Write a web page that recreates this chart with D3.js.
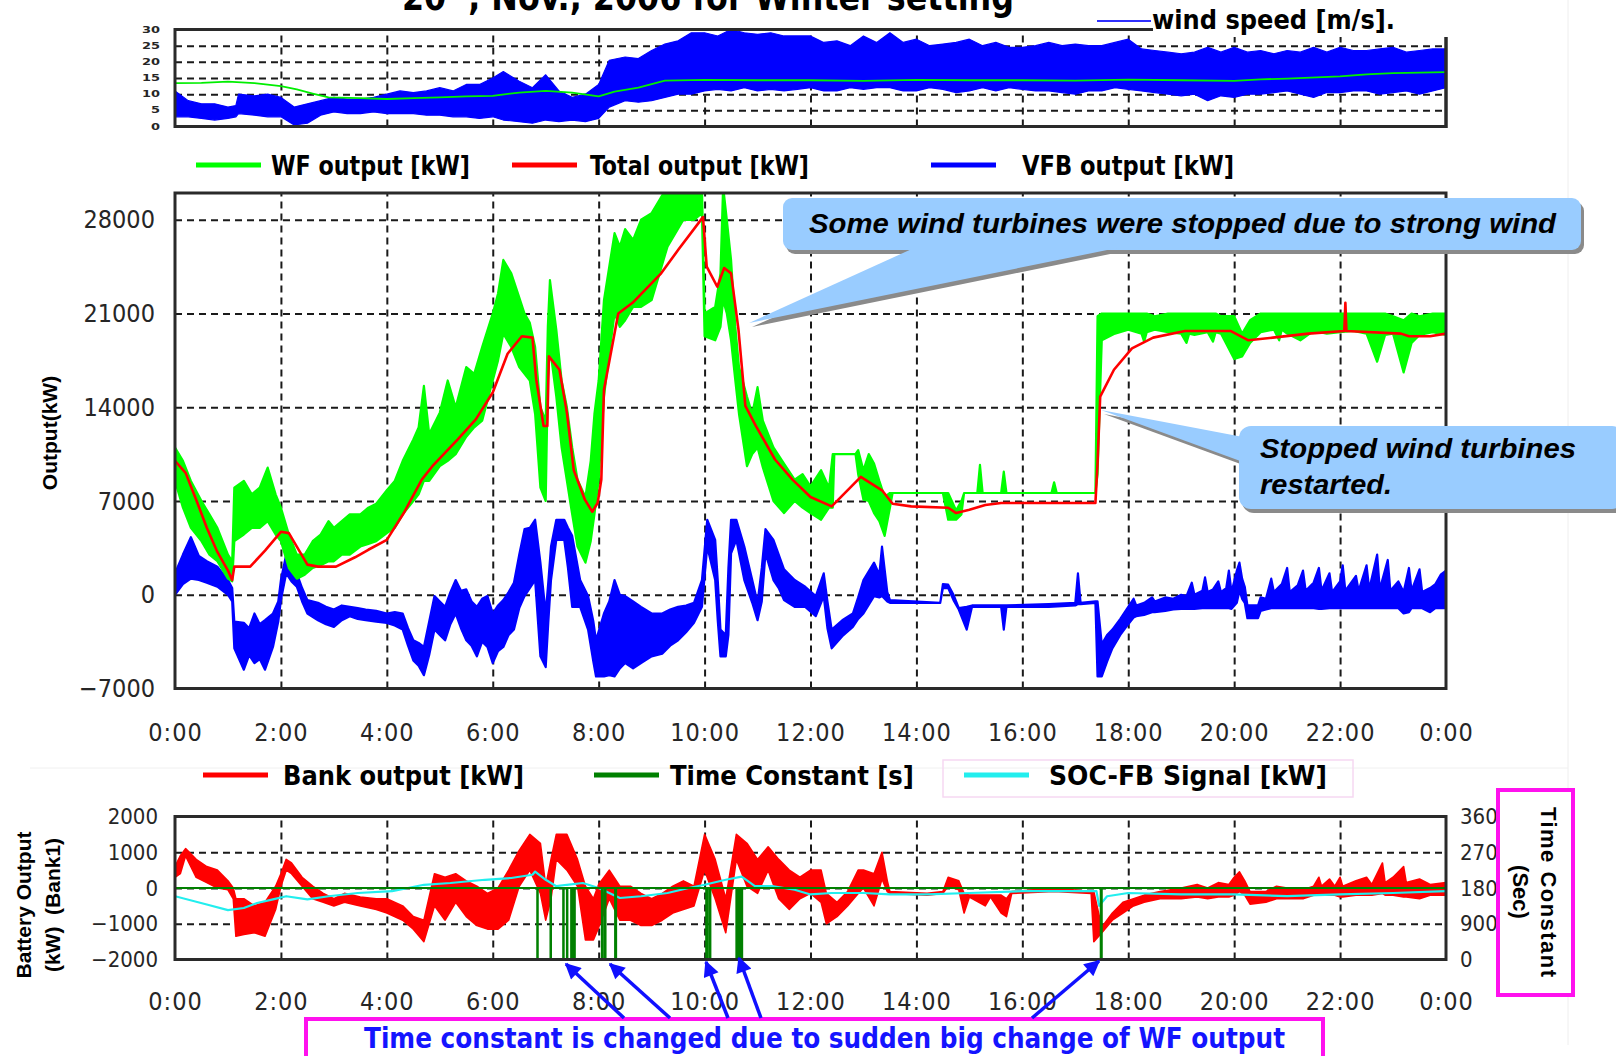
<!DOCTYPE html>
<html>
<head>
<meta charset="utf-8">
<script src="https://cdn.jsdelivr.net/npm/d3@7"></script>
<style>
  body { margin: 0; background: #fff; }
  svg { display: block; }
  .narrow { font-family: "Liberation Sans Narrow", "DejaVu Sans Condensed", "Liberation Sans", Arial, sans-serif; }
  .sans { font-family: "Liberation Sans", Arial, sans-serif; }
</style>
</head>
<body>
<svg id="chart" width="1616" height="1056"></svg>
<script>
// ---- tick values / labels
const hourTicks = [0, 2, 4, 6, 8, 10, 12, 14, 16, 18, 20, 22, 24];
const hourLabels = ["0:00", "2:00", "4:00", "6:00", "8:00", "10:00", "12:00", "14:00", "16:00", "18:00", "20:00", "22:00", "0:00"];
const windTicks = [0, 5, 10, 15, 20, 25, 30];
const outputTicks = [-7000, 0, 7000, 14000, 21000, 28000];
const bankTicks = [-2000, -1000, 0, 1000, 2000];
const tcTicks = [0, 900, 1800, 2700, 3600];

const outputNames = ["WF output [kW]", "Total output [kW]", "VFB output [kW]"];
const outputColors = ["#00ff00", "#ff0000", "#0000ff"];
const bankNames = ["Bank output [kW]", "Time Constant [s]", "SOC-FB Signal [kW]"];
const bankColors = ["#ff0000", "#008000", "#22eeee"];

// ---- wind speed [m/s]: [hour, high, low] of the noisy trace
const windSpeed = [
  [0,11,3],[0.25,8,3],[0.5,7,2.5],[0.75,7,2],[1,6,2.5],[1.15,6.5,3],[1.2,10,4],[1.5,9.5,3.5],[1.75,10,3],
  [2,9,3],[2.25,6,0.5],[2.5,7,1],[2.75,8,3.5],[3,9,4.5],[3.25,8.5,4],[3.5,8.5,4],[3.75,9,4.5],[4,10,4],
  [4.25,11,4],[4.5,10.5,4],[4.75,11,3.5],[5,12,3.5],[5.25,11,3],[5.5,13,3],[5.75,13,2.5],[6,15,3],[6.2,17,2],
  [6.5,14,1.5],[6.75,12,1],[7,16,2],[7.25,11,1.5],[7.5,9,2],[7.75,10,1.5],[8,13,2.5],[8.2,20.5,6],[8.5,21.5,8],
  [8.75,21,7.5],[9,23.5,8],[9.25,25.5,9],[9.5,26.5,10],[9.75,29,10],[10,29,11],[10.25,28,11.5],[10.5,30,11],
  [10.75,29,12],[11,28.5,11],[11.25,29,11.5],[11.5,28,11],[11.75,28,11.5],[12,28,12],[12.25,26,11],[12.5,26.5,11],
  [12.75,25,12],[13,28,11.5],[13.25,26,12],[13.5,29,12],[13.75,26,11],[14,27,11],[14.25,25,12],[14.5,25.5,11.5],
  [14.75,26,10.5],[15,27,11],[15.25,25,12],[15.5,26,11],[15.75,24.5,12],[16,24.5,11.5],[16.25,25,11],[16.5,26,11],
  [16.75,25,10.5],[17,25.5,10],[17.25,25,11],[17.5,25,11],[17.75,26,12],[18,27,11.5],[18.25,24,11],[18.5,23.5,10.5],
  [18.75,23,10],[19,22.5,9.5],[19.25,23,10],[19.5,24.5,8],[19.75,23,9.5],[20,24.5,9],[20.25,23,10],[20.5,23.5,10],
  [20.75,22.5,10.5],[21,23.5,11],[21.25,23,10],[21.5,24.5,9],[21.75,23,10.5],[22,24.5,10.5],[22.25,23.5,11],
  [22.5,23.5,11],[22.75,24,10],[23,24.5,10.5],[23.25,23,11],[23.5,23.5,10],[23.75,24,11],[24,24,12]
];
// smoothed green trace of the top panel [hour, m/s]
const windMean = [
  [0,13.4],[0.5,13.5],[1,13.9],[1.5,13.4],[2,12.5],[2.3,11.5],[2.6,10.2],[2.9,9],[3.5,8.8],[4,8.5],[4.5,8.8],
  [5,9],[5.5,9.3],[6,9.5],[6.5,10.5],[7,11],[7.5,10.5],[8,9.3],[8.3,10.8],[8.75,12],[9.25,14.2],[10,14.4],
  [11,14.3],[12,14.3],[13,14.1],[14,14.4],[15,14.3],[16,14.3],[17,14.2],[18,14.5],[19,14.3],[20,14.1],
  [20.5,14.6],[21,14.8],[22,15.5],[22.5,16.1],[23,16.5],[24,16.8]
];

// ---- middle panel [kW]
// WF output: [hour, high, low]
const wfOutput = [
  [0,11000,8500],[0.15,10000,6500],[0.3,8500,5000],[0.5,7000,4000],[0.65,6000,3000],[0.8,5000,2500],[1,3000,1200],
  [1.08,2500,1000],[1.12,8000,4000],[1.3,8500,4500],[1.45,7500,5000],[1.6,8000,5000],[1.75,9500,5500],[1.9,7500,4500],
  [2,6500,4000],[2.15,4500,2000],[2.3,3000,1200],[2.45,3000,1500],[2.6,4000,2000],[2.75,4500,2200],[2.9,5500,2500],
  [3,5000,2500],[3.15,5500,3000],[3.3,6000,3000],[3.5,6000,3600],[3.65,6500,3800],[3.8,6800,4000],[4,7800,4600],
  [4.15,8500,5000],[4.3,10000,6000],[4.5,11600,7000],[4.6,12500,7500],[4.7,15600,8500],[4.8,12000,8500],[5,13600,9600],
  [5.15,16000,10000],[5.3,14000,10500],[5.5,17000,11800],[5.65,16500,12500],[5.8,18500,13000],[6,21000,16000],
  [6.1,22500,17500],[6.2,25000,19500],[6.35,24000,18500],[6.5,22200,17000],[6.6,21000,16500],[6.7,20300,16000],
  [6.8,18500,13500],[6.9,14000,8000],[7,13000,7000],[7.04,20000,16000],[7.08,23500,18500],[7.2,19800,14800],
  [7.3,16000,11000],[7.4,14000,8500],[7.5,11000,6000],[7.6,8600,3600],[7.75,7300,2400],[7.85,10000,4000],
  [7.92,13500,6000],[8,16000,8600],[8.1,22000,14800],[8.2,24500,18000],[8.3,27000,21000],[8.4,26000,20000],
  [8.5,27300,20500],[8.65,26500,21500],[8.8,28000,21500],[9,28500,22000],[9.15,29500,24000],[9.3,30500,26000],
  [9.45,30500,27000],[9.6,30500,28000],[9.8,30500,28000],[9.95,30500,28500],[10,21000,19300],[10.2,21500,19000],
  [10.3,24000,20000],[10.35,30500,22000],[10.42,28000,21000],[10.5,25000,19000],[10.58,20000,16000],
  [10.65,17000,13500],[10.8,14800,9600],[10.9,13500,10500],[11,15500,11000],[11.1,13000,9500],[11.3,11000,7000],
  [11.5,9800,6100],[11.7,8600,7000],[11.85,9000,6500],[12,8100,6100],[12.2,9300,5600],[12.35,8000,6500],
  [12.42,10500,6500],[12.45,10500,10500],[12.85,10500,10500],[12.9,10800,9000],[13,9300,7100],[13.1,10500,7000],
  [13.2,9800,6100],[13.3,8500,5500],[13.4,7300,4400],[13.5,7600,6500],[13.55,7600,7600],[14.5,7600,7600],
  [14.6,7600,5600],[14.75,6300,5600],[14.85,7000,6000],[14.9,7600,7600],[15.15,7600,7600],[15.2,9700,7600],
  [15.25,7600,7600],[15.6,7600,7600],[15.65,9200,7600],[15.7,7600,7600],[16.55,7600,7600],[16.6,8400,7600],
  [16.65,7600,7600],[17.38,7600,7600],[17.42,20800,9000],[17.5,21000,19000],[17.75,21000,19500],[18,21000,19800],
  [18.25,21000,19500],[18.3,21000,18900],[18.35,21000,19600],[18.5,20800,19800],[18.75,21000,19600],[19,21000,19500],
  [19.1,21000,18800],[19.15,21000,19500],[19.25,21000,19400],[19.5,21000,19600],[19.6,21000,18900],[19.65,21000,19600],
  [19.75,20800,19500],[20,20800,17600],[20.15,19500,17800],[20.3,20500,18800],[20.5,21000,19600],[20.75,21000,19800],
  [20.85,21000,19000],[20.9,21000,19800],[21,21000,19500],[21.25,21000,19000],[21.5,21000,19700],[21.75,21000,19500],
  [22,21000,19600],[22.25,21000,19700],[22.5,21000,19500],[22.7,21000,17400],[22.85,21000,19400],[23,20800,19500],
  [23.2,20500,16600],[23.35,21000,18800],[23.5,20800,19400],[23.75,21000,19600],[24,21000,19400]
];
// Total output: [hour, kW]
const totalOutput = [
  [0,10000],[0.2,9100],[0.4,7100],[0.6,5000],[0.8,3200],[1,1800],[1.08,1100],[1.12,2100],[1.42,2100],[1.7,3300],
  [2,4700],[2.15,4600],[2.5,2250],[2.7,2100],[3.04,2100],[3.4,2800],[3.65,3360],[4,4100],[4.32,6100],[4.66,8600],
  [4.86,9600],[5.34,11600],[5.68,13100],[6,15100],[6.28,18000],[6.55,19300],[6.75,19200],[6.82,16100],[6.96,12600],
  [7.03,12600],[7.06,17800],[7.26,16800],[7.4,13600],[7.53,9300],[7.74,7100],[7.88,6200],[7.98,6850],[8.05,8600],
  [8.1,15300],[8.37,21000],[8.64,21800],[9.18,24000],[9.51,25800],[9.97,28200],[10.04,24500],[10.24,23000],
  [10.37,24400],[10.5,24000],[10.64,19800],[10.77,14100],[10.97,12600],[11.33,10100],[11.66,8600],[12,7300],
  [12.4,6600],[12.95,8800],[13.35,7800],[13.55,6800],[13.9,6600],[14.6,6500],[14.75,6100],[15,6350],[15.3,6700],
  [15.6,6850],[17.38,6850],[17.42,9800],[17.47,14800],[17.73,16800],[18.07,18400],[18.47,19200],[19.07,19700],
  [19.93,19700],[20.27,19000],[20.73,19200],[21.4,19500],[22.08,19700],[22.1,21800],[22.12,19700],[23.15,19500],
  [23.3,19300],[23.7,19300],[24,19500]
];
// VFB output: [hour, high, low]
const vfbOutput = [
  [0,1600,0],[0.15,3000,800],[0.3,4300,1200],[0.45,2900,1100],[0.6,2500,900],[0.8,2100,600],[1,1100,0],[1.08,500,-500],
  [1.12,-2000,-4000],[1.3,-2100,-5600],[1.4,-2500,-4500],[1.5,-1400,-5100],[1.6,-2200,-4800],[1.7,-1900,-5600],
  [1.85,-1400,-3900],[1.95,-500,-2000],[2,1100,-400],[2.1,3000,1600],[2.2,2400,1000],[2.3,1600,600],[2.4,500,-500],
  [2.5,-400,-1400],[2.7,-600,-1900],[2.85,-900,-2200],[3,-1100,-2400],[3.15,-800,-1900],[3.3,-900,-1600],
  [3.45,-1000,-1800],[3.6,-1100,-1900],[3.8,-1200,-2000],[4,-1400,-2100],[4.15,-1300,-2300],[4.3,-1400,-2600],
  [4.4,-2500,-3800],[4.5,-3400,-4900],[4.6,-3600,-5300],[4.7,-3900,-6000],[4.8,-2000,-4500],[4.9,-100,-2600],
  [5,-500,-3000],[5.1,-900,-3400],[5.2,200,-2200],[5.3,1100,-1400],[5.4,300,-2500],[5.5,400,-3400],[5.6,-500,-3800],
  [5.7,-900,-4600],[5.8,-300,-3500],[5.9,-100,-3900],[6,-1400,-5100],[6.1,-800,-4200],[6.2,-400,-3900],
  [6.3,200,-3000],[6.4,900,-2600],[6.5,3000,-1000],[6.6,4900,-100],[6.7,5000,500],[6.8,5600,1100],[6.9,2400,-4600],
  [7,-1400,-5400],[7.05,1000,-2000],[7.1,3600,1100],[7.2,5600,4100],[7.35,5600,4100],[7.42,5000,2000],
  [7.5,4400,-900],[7.65,1100,-900],[7.8,-100,-2600],[7.9,-2000,-5000],[7.95,-3400,-6100],[8.1,-1400,-6100],
  [8.2,-500,-6000],[8.3,1100,-6100],[8.4,0,-5500],[8.5,-100,-5100],[8.65,-500,-5500],[8.8,-900,-5100],
  [9,-1400,-4600],[9.2,-1400,-4400],[9.35,-1100,-3800],[9.5,-900,-3400],[9.65,-800,-2800],[9.8,-600,-2100],
  [9.95,1100,-900],[10.05,5600,3600],[10.2,4100,1100],[10.25,1000,-2000],[10.3,-2600,-4600],[10.4,-3000,-4600],
  [10.45,2000,-3000],[10.5,5600,3100],[10.6,5600,4100],[10.75,3600,1100],[10.9,1100,-600],[11,-600,-1900],
  [11.08,2000,-500],[11.15,4900,3100],[11.3,4100,1100],[11.4,3000,500],[11.5,1900,-400],[11.7,1100,-900],
  [11.9,600,-900],[12.1,-100,-1600],[12.25,1600,-100],[12.32,-500,-2500],[12.4,-2600,-4000],[12.6,-1900,-3100],
  [12.8,-1400,-2400],[12.9,-200,-1800],[13,1100,-1400],[13.2,2400,-100],[13.3,1500,-200],[13.35,3600,-100],
  [13.45,200,-500],[13.5,-400,-600],[14.45,-600,-600],[14.5,800,500],[14.6,750,500],[14.7,0,-400],
  [14.8,-1000,-1100],[14.95,-900,-2600],[15.05,-800,-900],[15.6,-800,-900],[15.65,-800,-2600],[15.7,-800,-900],
  [16.5,-700,-900],[17,-600,-800],[17.05,1600,-700],[17.1,-600,-700],[17.38,-500,-600],[17.42,-500,-6100],
  [17.5,-3700,-6100],[17.6,-3000,-5000],[17.7,-2600,-4000],[17.85,-1800,-3000],[18,-900,-2200],[18.1,-300,-1700],
  [18.15,-800,-1600],[18.3,-600,-1500],[18.45,-200,-1300],[18.5,-500,-1300],[18.7,-200,-1200],[18.85,-300,-1100],
  [19,0,-1050],[19.1,-100,-1050],[19.2,900,-1050],[19.25,0,-1050],[19.4,300,-1000],[19.45,1300,-1000],
  [19.5,200,-1000],[19.6,400,-1000],[19.7,1000,-1000],[19.75,200,-1000],[19.85,500,-1000],[19.9,1800,-1000],
  [19.95,200,-1050],[20.05,1800,-600],[20.1,2400,300],[20.15,1200,-300],[20.2,600,-600],[20.25,-800,-1750],
  [20.45,-800,-1750],[20.5,-200,-1200],[20.6,-300,-1100],[20.7,1200,-1000],[20.75,200,-1000],[20.9,800,-1000],
  [21,2000,-1000],[21.05,200,-1000],[21.2,700,-1000],[21.3,1800,-1000],[21.35,300,-1000],[21.5,900,-1000],
  [21.6,2000,-1050],[21.65,300,-1050],[21.8,1600,-1000],[21.85,200,-1000],[22,1000,-1000],[22.05,2200,-1000],
  [22.1,300,-1000],[22.3,1400,-1000],[22.35,300,-1000],[22.5,2200,-1000],[22.55,400,-1000],[22.7,3000,-1000],
  [22.75,400,-1000],[22.9,2600,-1000],[22.95,300,-1000],[23.1,1000,-1000],[23.2,200,-1400],[23.3,2000,-1300],
  [23.35,300,-1000],[23.5,1900,-1000],[23.55,200,-1000],[23.7,500,-1300],[23.8,800,-1000],[23.9,1500,-1000],
  [24,1800,-1000]
];

// ---- bottom panel
// Bank output [kW]: [hour, high, low]
const bankOutput = [
  [0,600,300],[0.1,900,400],[0.2,1100,900],[0.4,800,300],[0.6,600,150],[0.8,500,0],[1,200,-50],[1.1,0,-300],
  [1.15,-300,-1350],[1.3,-300,-1300],[1.5,-500,-1250],[1.7,-400,-1350],[1.9,50,-600],[2,400,50],[2.1,800,500],
  [2.2,700,400],[2.4,300,50],[2.6,50,-300],[2.8,-150,-400],[3,-300,-500],[3.2,-150,-400],[3.5,-250,-500],
  [3.8,-300,-600],[4,-300,-700],[4.3,-500,-900],[4.5,-800,-1150],[4.7,-900,-1500],[4.9,400,-500],[5.1,300,-900],
  [5.3,400,-400],[5.5,200,-800],[5.7,50,-1050],[5.9,-150,-1150],[6.1,0,-1150],[6.3,500,-900],[6.5,1050,50],
  [6.7,1500,500],[6.9,1250,-150],[7,50,-900],[7.1,800,-300],[7.2,1500,800],[7.4,1500,500],[7.6,800,50],
  [7.75,50,-1450],[7.9,-300,-1450],[8,100,-1100],[8.2,500,-300],[8.4,50,-900],[8.6,50,-900],[8.8,-150,-1050],
  [9,-300,-1050],[9.2,-150,-900],[9.4,50,-700],[9.6,200,-600],[9.8,50,-500],[10,1500,500],[10.2,800,-300],
  [10.4,-300,-1250],[10.6,1500,800],[10.8,1250,50],[11,800,-150],[11.2,1150,500],[11.4,800,-300],[11.6,500,-600],
  [11.8,300,-300],[12,500,-150],[12.2,500,-400],[12.3,-150,-1000],[12.5,-400,-800],[12.7,-100,-500],[12.9,500,-150],
  [13,500,0],[13.2,400,-500],[13.35,1000,250],[13.45,200,-100],[13.5,-100,-150],[14.2,-150,-200],[14.5,-100,-150],
  [14.6,300,50],[14.8,200,-50],[14.9,-150,-700],[15,-200,-250],[15.3,-200,-500],[15.4,-200,-250],[15.6,-200,-700],
  [15.7,-300,-800],[15.8,-100,-150],[16.6,0,-100],[17.3,-100,-150],[17.35,-100,-1500],[17.5,-1100,-1250],
  [17.7,-700,-900],[17.9,-400,-700],[18.1,-300,-500],[18.3,-200,-400],[18.6,-100,-300],[19,0,-300],[19.3,100,-250],
  [19.5,0,-300],[19.7,150,-250],[19.9,100,-250],[20,300,-200],[20.1,450,-100],[20.2,200,-200],[20.3,-100,-450],
  [20.6,-100,-400],[20.8,50,-300],[21,0,-300],[21.3,-50,-300],[21.5,50,-200],[21.6,300,-200],[21.65,50,-200],
  [21.8,250,-200],[21.9,50,-200],[22,300,-250],[22.05,50,-250],[22.3,200,-200],[22.5,300,-200],[22.6,100,-200],
  [22.8,700,-150],[22.85,150,-200],[23,300,-200],[23.2,600,-250],[23.25,150,-250],[23.5,250,-300],[23.7,100,-200],
  [24,150,-200]
];
// SOC-FB signal [kW]: [hour, kW]
const socSignal = [
  [0,-230],[0.6,-460],[1,-620],[1.3,-560],[1.55,-420],[1.85,-320],[2.1,-230],[2.5,-320],[2.9,-230],[3.45,-140],
  [4.1,-90],[4.7,90],[5.2,140],[5.85,230],[6.35,280],[6.75,370],[6.8,460],[7,230],[7.2,50],[7.4,90],[7.7,140],
  [8,0],[8.4,-280],[8.8,-230],[9.3,-140],[9.7,0],[10,90],[10.4,230],[10.7,320],[10.95,50],[11.3,50],[11.7,-50],
  [12,-180],[12.4,-140],[13,-140],[13.5,-180],[14.2,-180],[15,-140],[16,-90],[17.4,-90],[17.45,-500],[17.6,-230],
  [18,-140],[19,-180],[20,-180],[21,-230],[22,-180],[23,-140],[24,-90]
];
// Time constant [s]: [hour, seconds]
const timeConstant = [
  [0,1800],[6.84,1800],[6.84,0],[6.85,0],[6.85,1800],[7.09,1800],[7.09,0],[7.1,0],[7.1,1800],[7.33,1800],[7.33,0],
  [7.34,0],[7.34,1800],[7.4,1800],[7.4,0],[7.41,0],[7.41,1800],[7.48,1800],[7.48,0],[7.5,0],[7.5,1800],[7.53,1800],
  [7.53,0],[7.55,0],[7.55,1800],[8.06,1800],[8.06,0],[8.07,0],[8.07,1800],[8.11,1800],[8.11,0],[8.13,0],[8.13,1800],
  [8.31,1800],[8.31,0],[8.33,0],[8.33,1800],[10.03,1800],[10.03,0],[10.05,0],[10.05,1800],[10.09,1800],[10.09,0],
  [10.11,0],[10.11,1800],[10.6,1800],[10.6,0],[10.62,0],[10.62,1800],[10.65,1800],[10.65,0],[10.67,0],[10.67,1800],
  [10.69,1800],[10.69,0],[10.71,0],[10.71,1800],[17.48,1800],[17.48,0],[17.5,0],[17.5,1800],[24,1800]
];

// ---- scales
const x = d3.scaleLinear().domain([0, 24]).range([175, 1446]);
const yWind = d3.scaleLinear().domain([0, 30]).range([126.5, 29.5]);
const yOut = d3.scaleLinear().domain([-7000, 30000]).range([688.5, 193]);
const yBank = d3.scaleLinear().domain([-2000, 2000]).range([959.5, 816.5]);
const yTc = d3.scaleLinear().domain([0, 3600]).range([959.5, 816.5]);

const svg = d3.select("#chart");
const defs = svg.append("defs");

defs.append("marker")
  .attr("id", "arrow")
  .attr("viewBox", "0 0 10 10")
  .attr("refX", 9).attr("refY", 5)
  .attr("markerWidth", 5).attr("markerHeight", 4.5)
  .attr("orient", "auto")
  .append("path").attr("d", "M0,0 L10,5 L0,10 z").attr("fill", "#1010ff");

function clip(id, yScale) {
  const [lo, hi] = yScale.range();
  defs.append("clipPath").attr("id", id).append("rect")
    .attr("x", x(0)).attr("y", hi).attr("width", x(24) - x(0)).attr("height", lo - hi);
}
clip("clipWind", yWind);
clip("clipOut", yOut);
clip("clipBank", yBank);

// faint page lines
svg.append("line").attr("x1", 1568).attr("x2", 1568).attr("y1", 0).attr("y2", 1045).attr("stroke", "#eee");
svg.append("line").attr("x1", 30).attr("x2", 1568).attr("y1", 768).attr("y2", 768).attr("stroke", "#f0f0f0");

function panel(yScale, gridVals) {
  const [bottom, top] = yScale.range();
  const g = svg.append("g");
  g.append("g").attr("class", "grid")
    .attr("transform", `translate(0,${bottom})`)
    .call(d3.axisBottom(x).tickValues(hourTicks.slice(1, -1)).tickSize(-(bottom - top)).tickFormat(""));
  g.append("g").attr("class", "grid")
    .attr("transform", `translate(${x(0)},0)`)
    .call(d3.axisLeft(yScale).tickValues(gridVals).tickSize(-(x(24) - x(0))).tickFormat(""));
  g.selectAll(".grid .domain").remove();
  g.selectAll(".grid line")
    .attr("stroke", "#1a1a1a").attr("stroke-width", 2).attr("stroke-dasharray", "7,5");
  return g;
}

function band(g, data, yScale, color, width, clipId) {
  g.append("path").datum(data)
    .attr("clip-path", `url(#${clipId})`)
    .attr("d", d3.area().x(d => x(d[0])).y0(d => yScale(d[2])).y1(d => yScale(d[1])))
    .attr("fill", color).attr("stroke", color)
    .attr("stroke-width", width).attr("stroke-linejoin", "round");
}

function line(g, data, yScale, color, width, clipId) {
  g.append("path").datum(data)
    .attr("clip-path", `url(#${clipId})`)
    .attr("d", d3.line().x(d => x(d[0])).y(d => yScale(d[1])))
    .attr("fill", "none").attr("stroke", color)
    .attr("stroke-width", width).attr("stroke-linejoin", "round");
}

function frame(g, yScale) {
  const [bottom, top] = yScale.range();
  g.append("rect").attr("x", x(0)).attr("y", top)
    .attr("width", x(24) - x(0)).attr("height", bottom - top)
    .attr("fill", "none").attr("stroke", "#2a2a2a").attr("stroke-width", 3);
}

function styleTicks(sel, size) {
  sel.attr("font-family", null).attr("font-size", null);
  sel.select(".domain").remove();
  sel.selectAll("text").attr("class", "narrow").attr("fill", "#262626")
    .style("font-size", size + "px").style("font-weight", "bold");
}

function hourAxis(yPos) {
  svg.append("g").attr("transform", `translate(0,${yPos})`)
    .call(d3.axisBottom(x).tickValues(hourTicks).tickSize(0).tickPadding(0)
      .tickFormat((d, i) => hourLabels[i]))
    .call(s => styleTicks(s, 25))
    .selectAll("text").attr("dy", "0.35em").style("letter-spacing", "1px").style("font-weight", "normal");
}

// ---- top panel: wind speed
const gWind = panel(yWind, [5, 10, 15, 20, 25]);
band(gWind, windSpeed, yWind, "#0000ff", 1.2, "clipWind");
line(gWind, windMean, yWind, "#00ee00", 1.8, "clipWind");
frame(gWind, yWind);
svg.append("g").attr("transform", `translate(160,0)`)
  .call(d3.axisLeft(yWind).tickValues(windTicks).tickSize(0).tickPadding(0))
  .call(s => styleTicks(s, 8))
  .selectAll("text").attr("transform", "scale(1.8,1)");
// legend patch over the frame top
svg.append("rect").attr("x", 1153).attr("y", 0).attr("width", 300).attr("height", 37).attr("fill", "#fff");
svg.append("line").attr("x1", 1446).attr("x2", 1446).attr("y1", 37).attr("y2", 128)
  .attr("stroke", "#2a2a2a").attr("stroke-width", 3);
svg.append("line").attr("x1", 1097).attr("x2", 1151).attr("y1", 21).attr("y2", 21)
  .attr("stroke", "#3030ff").attr("stroke-width", 2);
svg.append("text").attr("class", "narrow").attr("x", 1152).attr("y", 29)
  .attr("textLength", 243).attr("lengthAdjust", "spacingAndGlyphs")
  .style("font-size", "26px").style("font-weight", "bold").text("wind speed [m/s].");

// title (cut at the top edge, as in the source)
const title = svg.append("text").attr("class", "narrow").attr("x", 402).attr("y", 10)
  .attr("textLength", 612).attr("lengthAdjust", "spacingAndGlyphs")
  .style("font-size", "38px").style("font-weight", "bold");
title.append("tspan").text("20");
title.append("tspan").attr("baseline-shift", "super").style("font-size", "22px").text("th");
title.append("tspan").text(", Nov., 2006 for Winter setting");

// ---- middle panel: outputs
const gOut = panel(yOut, [0, 7000, 14000, 21000, 28000]);
band(gOut, vfbOutput, yOut, outputColors[2], 2.2, "clipOut");
band(gOut, wfOutput, yOut, outputColors[0], 2.2, "clipOut");
line(gOut, totalOutput, yOut, outputColors[1], 2.6, "clipOut");
frame(gOut, yOut);
svg.append("g").attr("transform", `translate(155,0)`)
  .call(d3.axisLeft(yOut).tickValues(outputTicks).tickSize(0).tickPadding(0).tickFormat(d3.format("d")))
  .call(s => styleTicks(s, 25))
  .selectAll("text").style("font-weight", "normal");
hourAxis(732);

svg.append("text").attr("class", "sans")
  .attr("transform", "translate(57,433) rotate(-90)")
  .attr("text-anchor", "middle")
  .style("font-size", "21px").style("font-weight", "bold").text("Output(kW)");

const midLegX = [196, 512, 931];
const midTextX = [271, 590, 1022];
const midTextLen = [199, 219, 212];
outputNames.forEach((name, i) => {
  svg.append("line").attr("x1", midLegX[i]).attr("x2", midLegX[i] + 65).attr("y1", 165).attr("y2", 165)
    .attr("stroke", outputColors[i]).attr("stroke-width", 5);
  svg.append("text").attr("class", "narrow").attr("x", midTextX[i]).attr("y", 175)
    .attr("textLength", midTextLen[i]).attr("lengthAdjust", "spacingAndGlyphs")
    .style("font-size", "26px").style("font-weight", "bold").text(name);
});

// ---- bottom panel: bank output
const gBank = panel(yBank, [-1000, 0, 1000]);
band(gBank, bankOutput, yBank, bankColors[0], 1.6, "clipBank");
line(gBank, socSignal, yBank, bankColors[2], 2.2, "clipBank");
line(gBank, timeConstant, yTc, bankColors[1], 2, "clipBank");
frame(gBank, yBank);
svg.append("g").attr("transform", `translate(158,0)`)
  .call(d3.axisLeft(yBank).tickValues(bankTicks).tickSize(0).tickPadding(0).tickFormat(d3.format("d")))
  .call(s => styleTicks(s, 22))
  .selectAll("text").style("font-weight", "normal");
svg.append("g").attr("transform", `translate(1460,0)`)
  .call(d3.axisRight(yTc).tickValues(tcTicks).tickSize(0).tickPadding(0).tickFormat(d3.format("d")))
  .call(s => styleTicks(s, 22))
  .selectAll("text").style("font-weight", "normal");
hourAxis(1001);

const botLegX = [203, 594, 964];
const botTextX = [283, 670, 1049];
const botTextLen = [241, 244, 278];
svg.append("rect").attr("x", 943).attr("y", 760).attr("width", 410).attr("height", 37)
  .attr("fill", "none").attr("stroke", "#f6d8f2").attr("stroke-width", 1.5);
bankNames.forEach((name, i) => {
  svg.append("line").attr("x1", botLegX[i]).attr("x2", botLegX[i] + 65).attr("y1", 775).attr("y2", 775)
    .attr("stroke", bankColors[i]).attr("stroke-width", 5);
  svg.append("text").attr("class", "narrow").attr("x", botTextX[i]).attr("y", 785)
    .attr("textLength", botTextLen[i]).attr("lengthAdjust", "spacingAndGlyphs")
    .style("font-size", "26px").style("font-weight", "bold").text(name);
});

const batt = svg.append("text").attr("class", "sans")
  .attr("transform", "translate(0,905) rotate(-90)")
  .attr("text-anchor", "middle")
  .style("font-size", "21px").style("font-weight", "bold");
batt.append("tspan").attr("x", 0).attr("y", 31).text("Battery Output");
batt.append("tspan").attr("x", 0).attr("y", 60).attr("xml:space", "preserve").text("(kW)  (Bank1)");

// right axis title box
svg.append("rect").attr("x", 1498).attr("y", 790).attr("width", 75).attr("height", 205)
  .attr("fill", "#fff").attr("stroke", "#ff11ee").attr("stroke-width", 4);
const tcTitle = svg.append("text").attr("class", "sans")
  .attr("transform", "translate(0,892) rotate(90)")
  .attr("text-anchor", "middle")
  .style("font-size", "22px").style("font-weight", "bold");
tcTitle.append("tspan").attr("x", 0).attr("y", -1541).attr("textLength", 170).text("Time Constant");
tcTitle.append("tspan").attr("x", 0).attr("y", -1513).text("(Sec)");

// ---- bottom note with arrows
svg.append("rect").attr("x", 306).attr("y", 1019).attr("width", 1017).attr("height", 60)
  .attr("fill", "#fff").attr("stroke", "#ff11ee").attr("stroke-width", 4);
svg.append("text").attr("class", "narrow").attr("x", 364).attr("y", 1048)
  .attr("textLength", 921).attr("lengthAdjust", "spacingAndGlyphs")
  .attr("fill", "#1414ff")
  .style("font-size", "28px").style("font-weight", "bold")
  .text("Time constant is changed due to sudden big change of WF output");
const arrows = [[624, 1018, 566, 964], [670, 1018, 610, 964], [728, 1018, 706, 962], [761, 1018, 739, 958], [1032, 1018, 1099, 961]];
svg.selectAll(".arr").data(arrows).join("line").attr("class", "arr")
  .attr("x1", d => d[0]).attr("y1", d => d[1]).attr("x2", d => d[2]).attr("y2", d => d[3])
  .attr("stroke", "#1010ff").attr("stroke-width", 3.5).attr("marker-end", "url(#arrow)");

// ---- callouts
function callout(rect, tri, rx) {
  const g = svg.append("g");
  const shape = (dx, dy, fill) => {
    g.append("rect").attr("x", rect[0] + dx).attr("y", rect[1] + dy)
      .attr("width", rect[2]).attr("height", rect[3]).attr("rx", rx).attr("fill", fill);
    g.append("path").attr("d", d3.line()(tri.map(p => [p[0] + dx, p[1] + dy])) + "Z").attr("fill", fill);
  };
  shape(3, 4, "#8a8a8a");
  shape(0, 0, "#99ccff");
  return g;
}
callout([783, 198, 798, 52], [[914, 248], [749, 323], [1117, 248]], 9);
svg.append("text").attr("class", "sans").attr("x", 809).attr("y", 233)
  .attr("textLength", 747).attr("lengthAdjust", "spacingAndGlyphs")
  .style("font-size", "27px").style("font-weight", "bold").style("font-style", "italic")
  .text("Some wind turbines were stopped due to strong wind");

callout([1239, 426, 385, 83], [[1243, 437], [1101, 410], [1243, 462]], 12);
svg.append("text").attr("class", "sans").attr("x", 1260).attr("y", 458)
  .attr("textLength", 316).attr("lengthAdjust", "spacingAndGlyphs")
  .style("font-size", "28px").style("font-weight", "bold").style("font-style", "italic")
  .text("Stopped wind turbines");
svg.append("text").attr("class", "sans").attr("x", 1260).attr("y", 494)
  .attr("textLength", 132).attr("lengthAdjust", "spacingAndGlyphs")
  .style("font-size", "28px").style("font-weight", "bold").style("font-style", "italic")
  .text("restarted.");
</script>
</body>
</html>
